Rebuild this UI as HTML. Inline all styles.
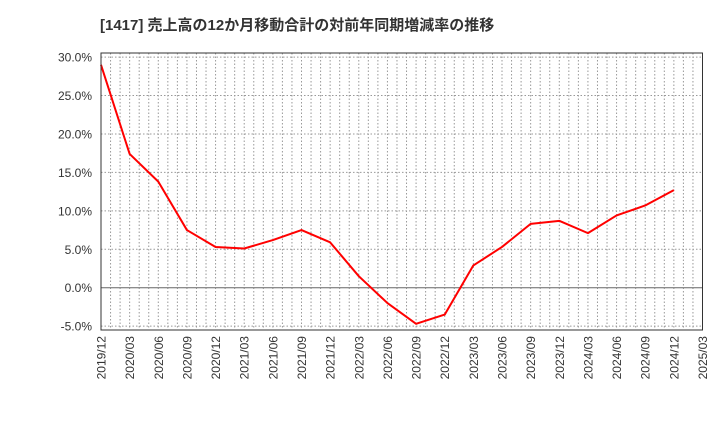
<!DOCTYPE html>
<html><head><meta charset="utf-8"><style>
body{margin:0;background:#fff}
svg text{font-family:"Liberation Sans","Noto Sans CJK JP",sans-serif;fill:#333}
</style></head><body>
<svg id="c" width="720" height="440">
<text x="100" y="30" font-size="15" font-weight="bold">[1417]  売上高の12か月移動合計の対前年同期増減率の推移</text>
<g id="grid"></g><g id="axes"></g><g id="series"></g>
<rect x="101" y="53" width="601.5" height="277" fill="none" stroke="#333" stroke-width="1"/>
</svg>
<script>
const categories=["2019/12","2020/03","2020/06","2020/09","2020/12","2021/03","2021/06","2021/09","2021/12","2022/03","2022/06","2022/09","2022/12","2023/03","2023/06","2023/09","2023/12","2024/03","2024/06","2024/09","2024/12"];
const values=[29.0,17.4,13.8,7.5,5.3,5.1,6.2,7.5,5.9,1.5,-2.0,-4.7,-3.5,2.9,5.3,8.3,8.7,7.1,9.4,10.7,12.7];
const xTickLabels=["2019/12","2020/03","2020/06","2020/09","2020/12","2021/03","2021/06","2021/09","2021/12","2022/03","2022/06","2022/09","2022/12","2023/03","2023/06","2023/09","2023/12","2024/03","2024/06","2024/09","2024/12","2025/03"];
const yTicks=[30,25,20,15,10,5,0,-5];
const NS="http://www.w3.org/2000/svg";
const x0=101,x1=702.5,months=63;
const xm=m=>x0+(x1-x0)*m/months;
const y=v=>287.7-(v)*7.686;
const grid=document.getElementById('grid'),axes=document.getElementById('axes'),ser=document.getElementById('series');
function mk(t,a,p){const e=document.createElementNS(NS,t);for(const k in a)e.setAttribute(k,a[k]);p.appendChild(e);return e;}
for(let m=1;m<months;m++){
 const l=mk('line',{x1:xm(m),x2:xm(m),y1:53,y2:330,stroke:'#999','stroke-dasharray':'1.5,2','stroke-width':1},grid);
 
 
}
yTicks.forEach(v=>{
 const l=mk('line',{x1:x0,x2:x1,y1:y(v),y2:y(v),stroke:v===0?'#666':'#999','stroke-dasharray':v===0?'none':'1.5,2','stroke-width':1},grid);
 
 
 const t=mk('text',{x:92,y:y(v)+4.5,'text-anchor':'end','font-size':12},axes);
 t.textContent=v.toFixed(1)+'%';
 
 
});
xTickLabels.forEach((s,i)=>{
 const xx=xm(i*3);
 const t=mk('text',{x:0,y:0,'text-anchor':'end','font-size':12,transform:`translate(${xx+4.5},336) rotate(-90)`},axes);
 t.textContent=s;
 
 
});
const pts=values.map((v,i)=>xm(categories.indexOf(categories[i])*3)+','+y(v)).join(' ');
const pl=mk('polyline',{points:pts,fill:'none',stroke:'#f00','stroke-width':2,'stroke-linejoin':'round'},ser);


</script>
</body></html>
